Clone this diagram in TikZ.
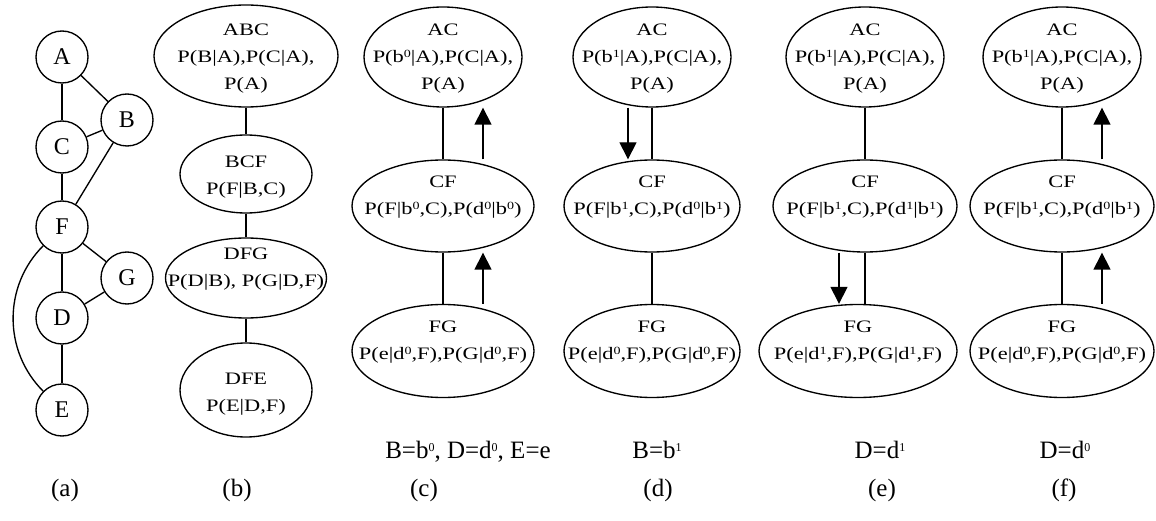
\documentclass[tikz,border=0pt]{standalone}
\usepackage{fontspec}
\setmainfont{Liberation Serif}
\newfontfamily\wideserif{Liberation Serif}[FakeStretch=1.28]
\usepackage{tikz}
\usetikzlibrary{shapes.geometric,arrows.meta}
\newcommand{\esup}[1]{\raisebox{5pt}{\fontsize{11}{11}\selectfont #1}}
\newcommand{\lsup}[1]{\raisebox{7pt}{\fontsize{12}{12}\selectfont #1}}

\begin{document}
\begin{tikzpicture}[x=1pt,y=1pt,line width=1.35pt,
    var/.style={circle,draw,minimum size=52pt,inner sep=0pt,font=\fontsize{24}{24}\selectfont},
    clique/.style={ellipse,draw,inner sep=0pt},
    txt/.style={align=center,inner sep=0pt,font=\wideserif\fontsize{17.5}{27}\selectfont},
    cond/.style={anchor=base,inner sep=0pt,font=\fontsize{25}{25}\selectfont},
    msg/.style={-{Triangle[length=17pt,width=17pt]}}]
  \useasboundingbox (0,0) rectangle (1156,-521);

  % (a) the graph
  \node[var](A) at (62,-57) {A};
  \node[var](B) at (127,-120) {B};
  \node[var](C) at (62,-147) {C};
  \node[var](F) at (62,-227) {F};
  \node[var](G) at (127,-278) {G};
  \node[var](D) at (62,-318) {D};
  \node[var](E) at (62,-410) {E};
  \draw (A) -- (C);
  \draw (A) -- (B);
  \draw (C) -- (B);
  \draw (C) -- (F);
  \draw (B) -- (F);
  \draw (F) -- (D);
  \draw (F) -- (G);
  \draw (G) -- (D);
  \draw (D) -- (E);
  \draw (F) to[out=225,in=135] (E);

  % (b) the clique tree
  \node[clique,minimum width=184pt,minimum height=102pt,
    label={[txt,yshift=-3pt]center:{ABC\\P(B|A),P(C|A),\\P(A)}}](ABC) at (246,-56) {};
  \node[clique,minimum width=132pt,minimum height=78pt,
    label={[txt,yshift=-3pt]center:{BCF\\P(F|B,C)}}](BCF) at (246,-174) {};
  \node[clique,minimum width=161pt,minimum height=80pt,
    label={[txt,yshift=9pt]center:{DFG\\P(D|B), P(G|D,F)}}](DFG) at (246,-278) {};
  \node[clique,minimum width=132pt,minimum height=94pt,
    label={[txt,yshift=-4pt]center:{DFE\\P(E|D,F)}}](DFE) at (246,-390) {};
  \draw (ABC) -- (BCF);
  \draw (BCF) -- (DFG);
  \draw (DFG) -- (DFE);

  % (c)
  \node[clique,minimum width=158pt,minimum height=100pt,
    label={[txt,yshift=-2pt]center:{AC\\P(b\esup{0}|A),P(C|A),\\P(A)}}](ACc) at (443,-57) {};
  \node[clique,minimum width=182pt,minimum height=92pt,
    label={[txt,yshift=9pt]center:{CF\\P(F|b\esup{0},C),P(d\esup{0}|b\esup{0})}}](CFc) at (443,-206) {};
  \node[clique,minimum width=182pt,minimum height=93pt,
    label={[txt,yshift=9pt]center:{FG\\P(e|d\esup{0},F),P(G|d\esup{0},F)}}](FGc) at (443,-351) {};
  \draw (ACc.south) -- (ACc.south |- CFc.north);
  \draw (CFc.south) -- (CFc.south |- FGc.north);
  \draw[msg] ([xshift=40pt]CFc.north) -- ([xshift=40pt]ACc.south);
  \draw[msg] ([xshift=40pt]FGc.north) -- ([xshift=40pt]CFc.south);

  % (d)
  \node[clique,minimum width=158pt,minimum height=100pt,
    label={[txt,yshift=-2pt]center:{AC\\P(b\esup{1}|A),P(C|A),\\P(A)}}](ACd) at (652,-57) {};
  \node[clique,minimum width=176pt,minimum height=92pt,
    label={[txt,yshift=9pt]center:{CF\\P(F|b\esup{1},C),P(d\esup{0}|b\esup{1})}}](CFd) at (652,-206) {};
  \node[clique,minimum width=176pt,minimum height=93pt,
    label={[txt,yshift=9pt]center:{FG\\P(e|d\esup{0},F),P(G|d\esup{0},F)}}](FGd) at (652,-351) {};
  \draw (ACd.south) -- (ACd.south |- CFd.north);
  \draw (CFd.south) -- (CFd.south |- FGd.north);
  \draw[msg] ([xshift=-24pt]ACd.south) -- ([xshift=-24pt]CFd.north);

  % (e)
  \node[clique,minimum width=158pt,minimum height=100pt,
    label={[txt,yshift=-2pt]center:{AC\\P(b\esup{1}|A),P(C|A),\\P(A)}}](ACe) at (865,-57) {};
  \node[clique,minimum width=184pt,minimum height=92pt,
    label={[txt,yshift=9pt]center:{CF\\P(F|b\esup{1},C),P(d\esup{1}|b\esup{1})}}](CFe) at (865,-206) {};
  \node[clique,minimum width=198pt,minimum height=93pt,
    label={[txt,yshift=9pt]center:{FG\\P(e|d\esup{1},F),P(G|d\esup{1},F)}}](FGe) at (858,-351) {};
  \draw (ACe.south) -- (ACe.south |- CFe.north);
  \draw (CFe.south) -- (CFe.south |- FGe.north);
  \draw[msg] ([xshift=-26pt]CFe.south) -- ([xshift=-19pt]FGe.north);

  % (f)
  \node[clique,minimum width=158pt,minimum height=100pt,
    label={[txt,yshift=-2pt]center:{AC\\P(b\esup{1}|A),P(C|A),\\P(A)}}](ACf) at (1062,-57) {};
  \node[clique,minimum width=184pt,minimum height=92pt,
    label={[txt,yshift=9pt]center:{CF\\P(F|b\esup{1},C),P(d\esup{0}|b\esup{1})}}](CFf) at (1062,-206) {};
  \node[clique,minimum width=184pt,minimum height=93pt,
    label={[txt,yshift=9pt]center:{FG\\P(e|d\esup{0},F),P(G|d\esup{0},F)}}](FGf) at (1062,-351) {};
  \draw (ACf.south) -- (ACf.south |- CFf.north);
  \draw (CFf.south) -- (CFf.south |- FGf.north);
  \draw[msg] ([xshift=40pt]CFf.north) -- ([xshift=40pt]ACf.south);
  \draw[msg] ([xshift=40pt]FGf.north) -- ([xshift=40pt]CFf.south);

  % evidence and captions
  \node[cond](condc) at (468,-458) {B=b\lsup{0}, D=d\lsup{0}, E=e};
  \node[cond](condd) at (657,-458) {B=b\lsup{1}};
  \node[cond](conde) at (880,-458) {D=d\lsup{1}};
  \node[cond](condf) at (1065,-458) {D=d\lsup{0}};
  \node[cond](taga) at (65,-496) {(a)};
  \node[cond](tagb) at (237,-496) {(b)};
  \node[cond](tagc) at (424,-496) {(c)};
  \node[cond](tagd) at (658,-496) {(d)};
  \node[cond](tage) at (882,-496) {(e)};
  \node[cond](tagf) at (1064,-496) {(f)};
\end{tikzpicture}
\end{document}
